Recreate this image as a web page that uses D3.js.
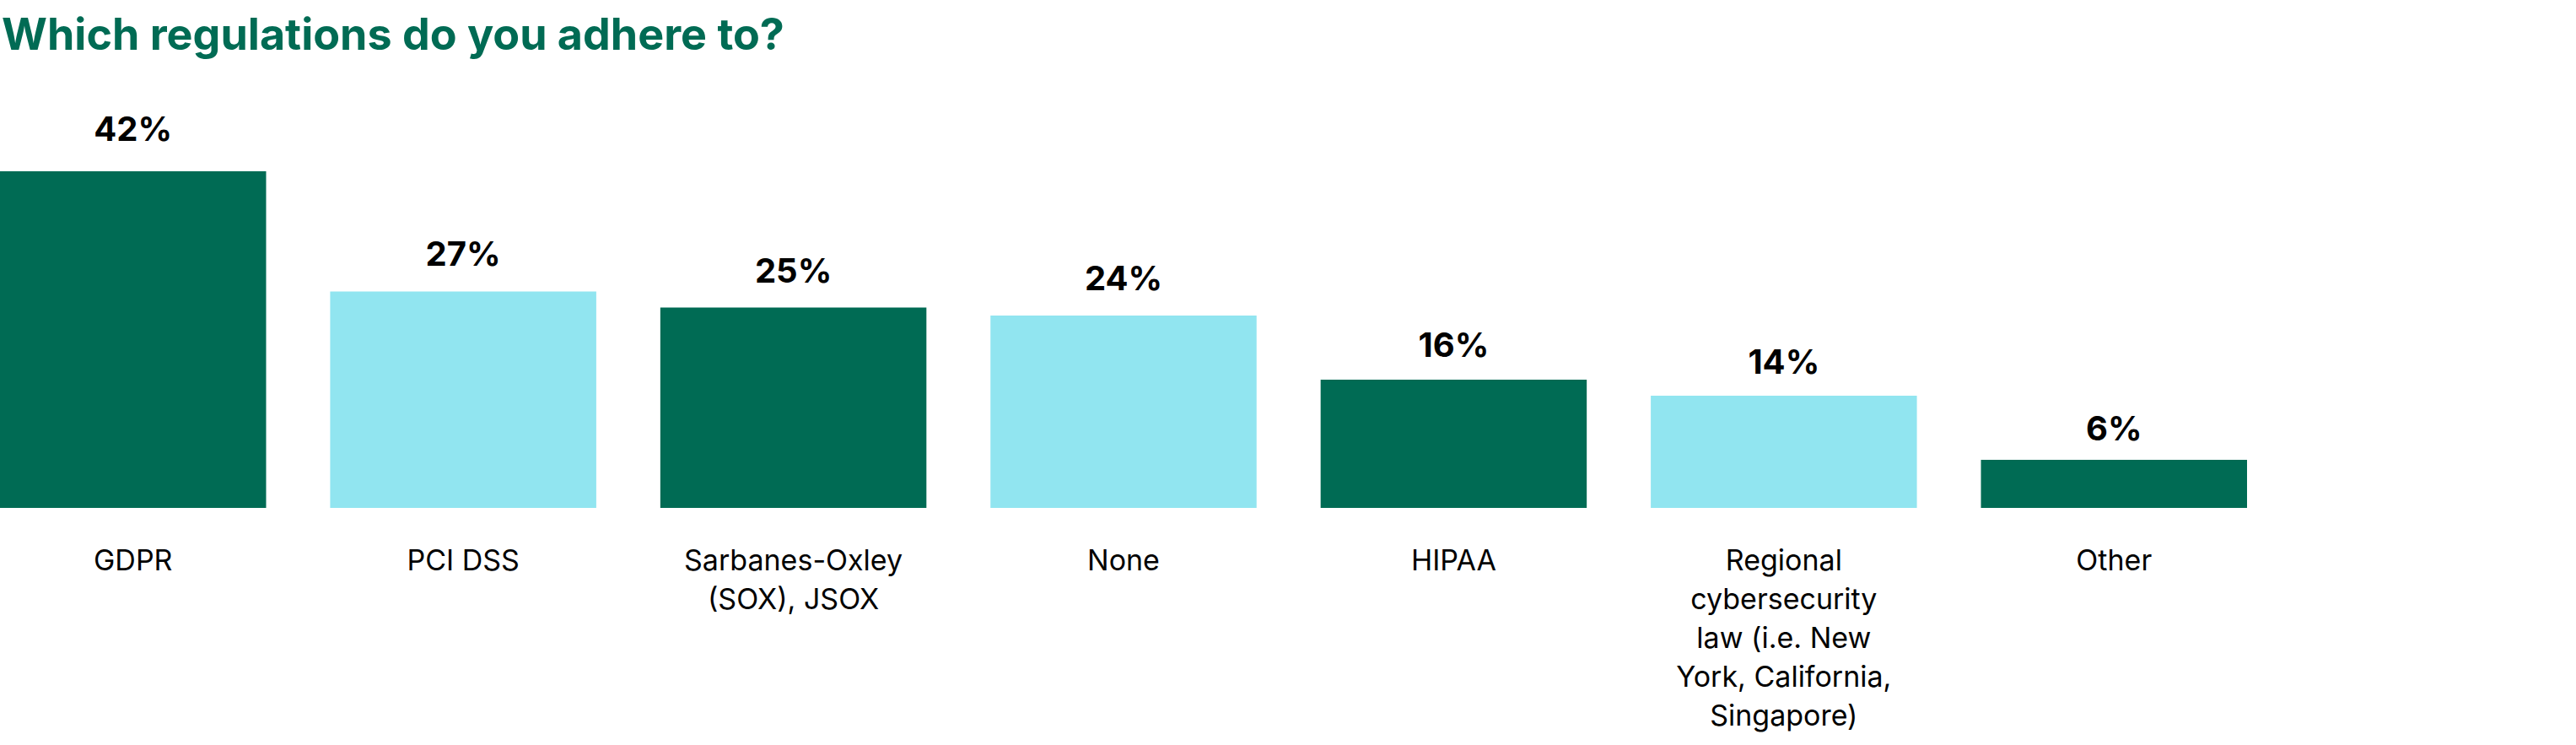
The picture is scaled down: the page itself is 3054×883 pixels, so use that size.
<!DOCTYPE html>
<html>
<head>
<meta charset="utf-8">
<script src="https://cdn.jsdelivr.net/npm/d3@7"></script>
<style>
  html, body { margin: 0; padding: 0; background: #fff; }
  svg { display: block; }
</style>
</head>
<body>
<svg id="chart"></svg>
<script>
var title = "Which regulations do you adhere to?";
var categories = [
	"GDPR",
	"PCI DSS",
	"Sarbanes-Oxley\n(SOX), JSOX",
	"None",
	"HIPAA",
	"Regional\ncybersecurity\nlaw (i.e. New\nYork, California,\nSingapore)",
	"Other"
];
var values = [42, 27, 25, 24, 16, 14, 6];

var W = 3054, H = 883;
var dark = "#006b54", light = "#91e5f0";

var svg = d3.select("#chart").attr("width", W).attr("height", H);

var x = d3.scaleBand().domain(categories).range([0, 2664]).paddingInner(0.194).paddingOuter(0);
var y = d3.scaleLinear().domain([0, 42]).range([602, 203]);
// value labels sit a bit further above the taller bars
var yLabel = d3.scaleLinear().domain([0, 42]).range([581, 167]);

svg.append("text")
	.attr("x", 2).attr("y", 59)
	.attr("font-family", "Inter, sans-serif")
	.attr("font-weight", 700)
	.attr("font-size", 52)
	.attr("fill", dark)
	.text(title);

var bars = svg.append("g");
bars.selectAll("rect").data(values).enter().append("rect")
	.attr("x", function(d, i) { return x(categories[i]); })
	.attr("y", function(d) { return y(d); })
	.attr("width", x.bandwidth())
	.attr("height", function(d) { return y(0) - y(d); })
	.attr("fill", function(d, i) { return i % 2 == 0 ? dark : light; });

var vals = svg.append("g");
vals.selectAll("text").data(values).enter().append("text")
	.attr("x", function(d, i) { return x(categories[i]) + x.bandwidth() / 2; })
	.attr("y", function(d) { return yLabel(d); })
	.attr("text-anchor", "middle")
	.attr("font-family", "Inter, sans-serif")
	.attr("font-weight", 700)
	.attr("font-size", 40)
	.attr("fill", "#000")
	.text(function(d) { return d + "%"; });

var labels = svg.append("g");
categories.forEach(function(c) {
	var t = labels.append("text")
		.attr("text-anchor", "middle")
		.attr("font-family", "Inter, sans-serif")
		.attr("font-size", 34)
		.attr("fill", "#000");
	c.split("\n").forEach(function(line, k) {
		t.append("tspan")
			.attr("x", x(c) + x.bandwidth() / 2)
			.attr("y", 676 + k * 46)
			.text(line);
	});
});
</script>
</body>
</html>
